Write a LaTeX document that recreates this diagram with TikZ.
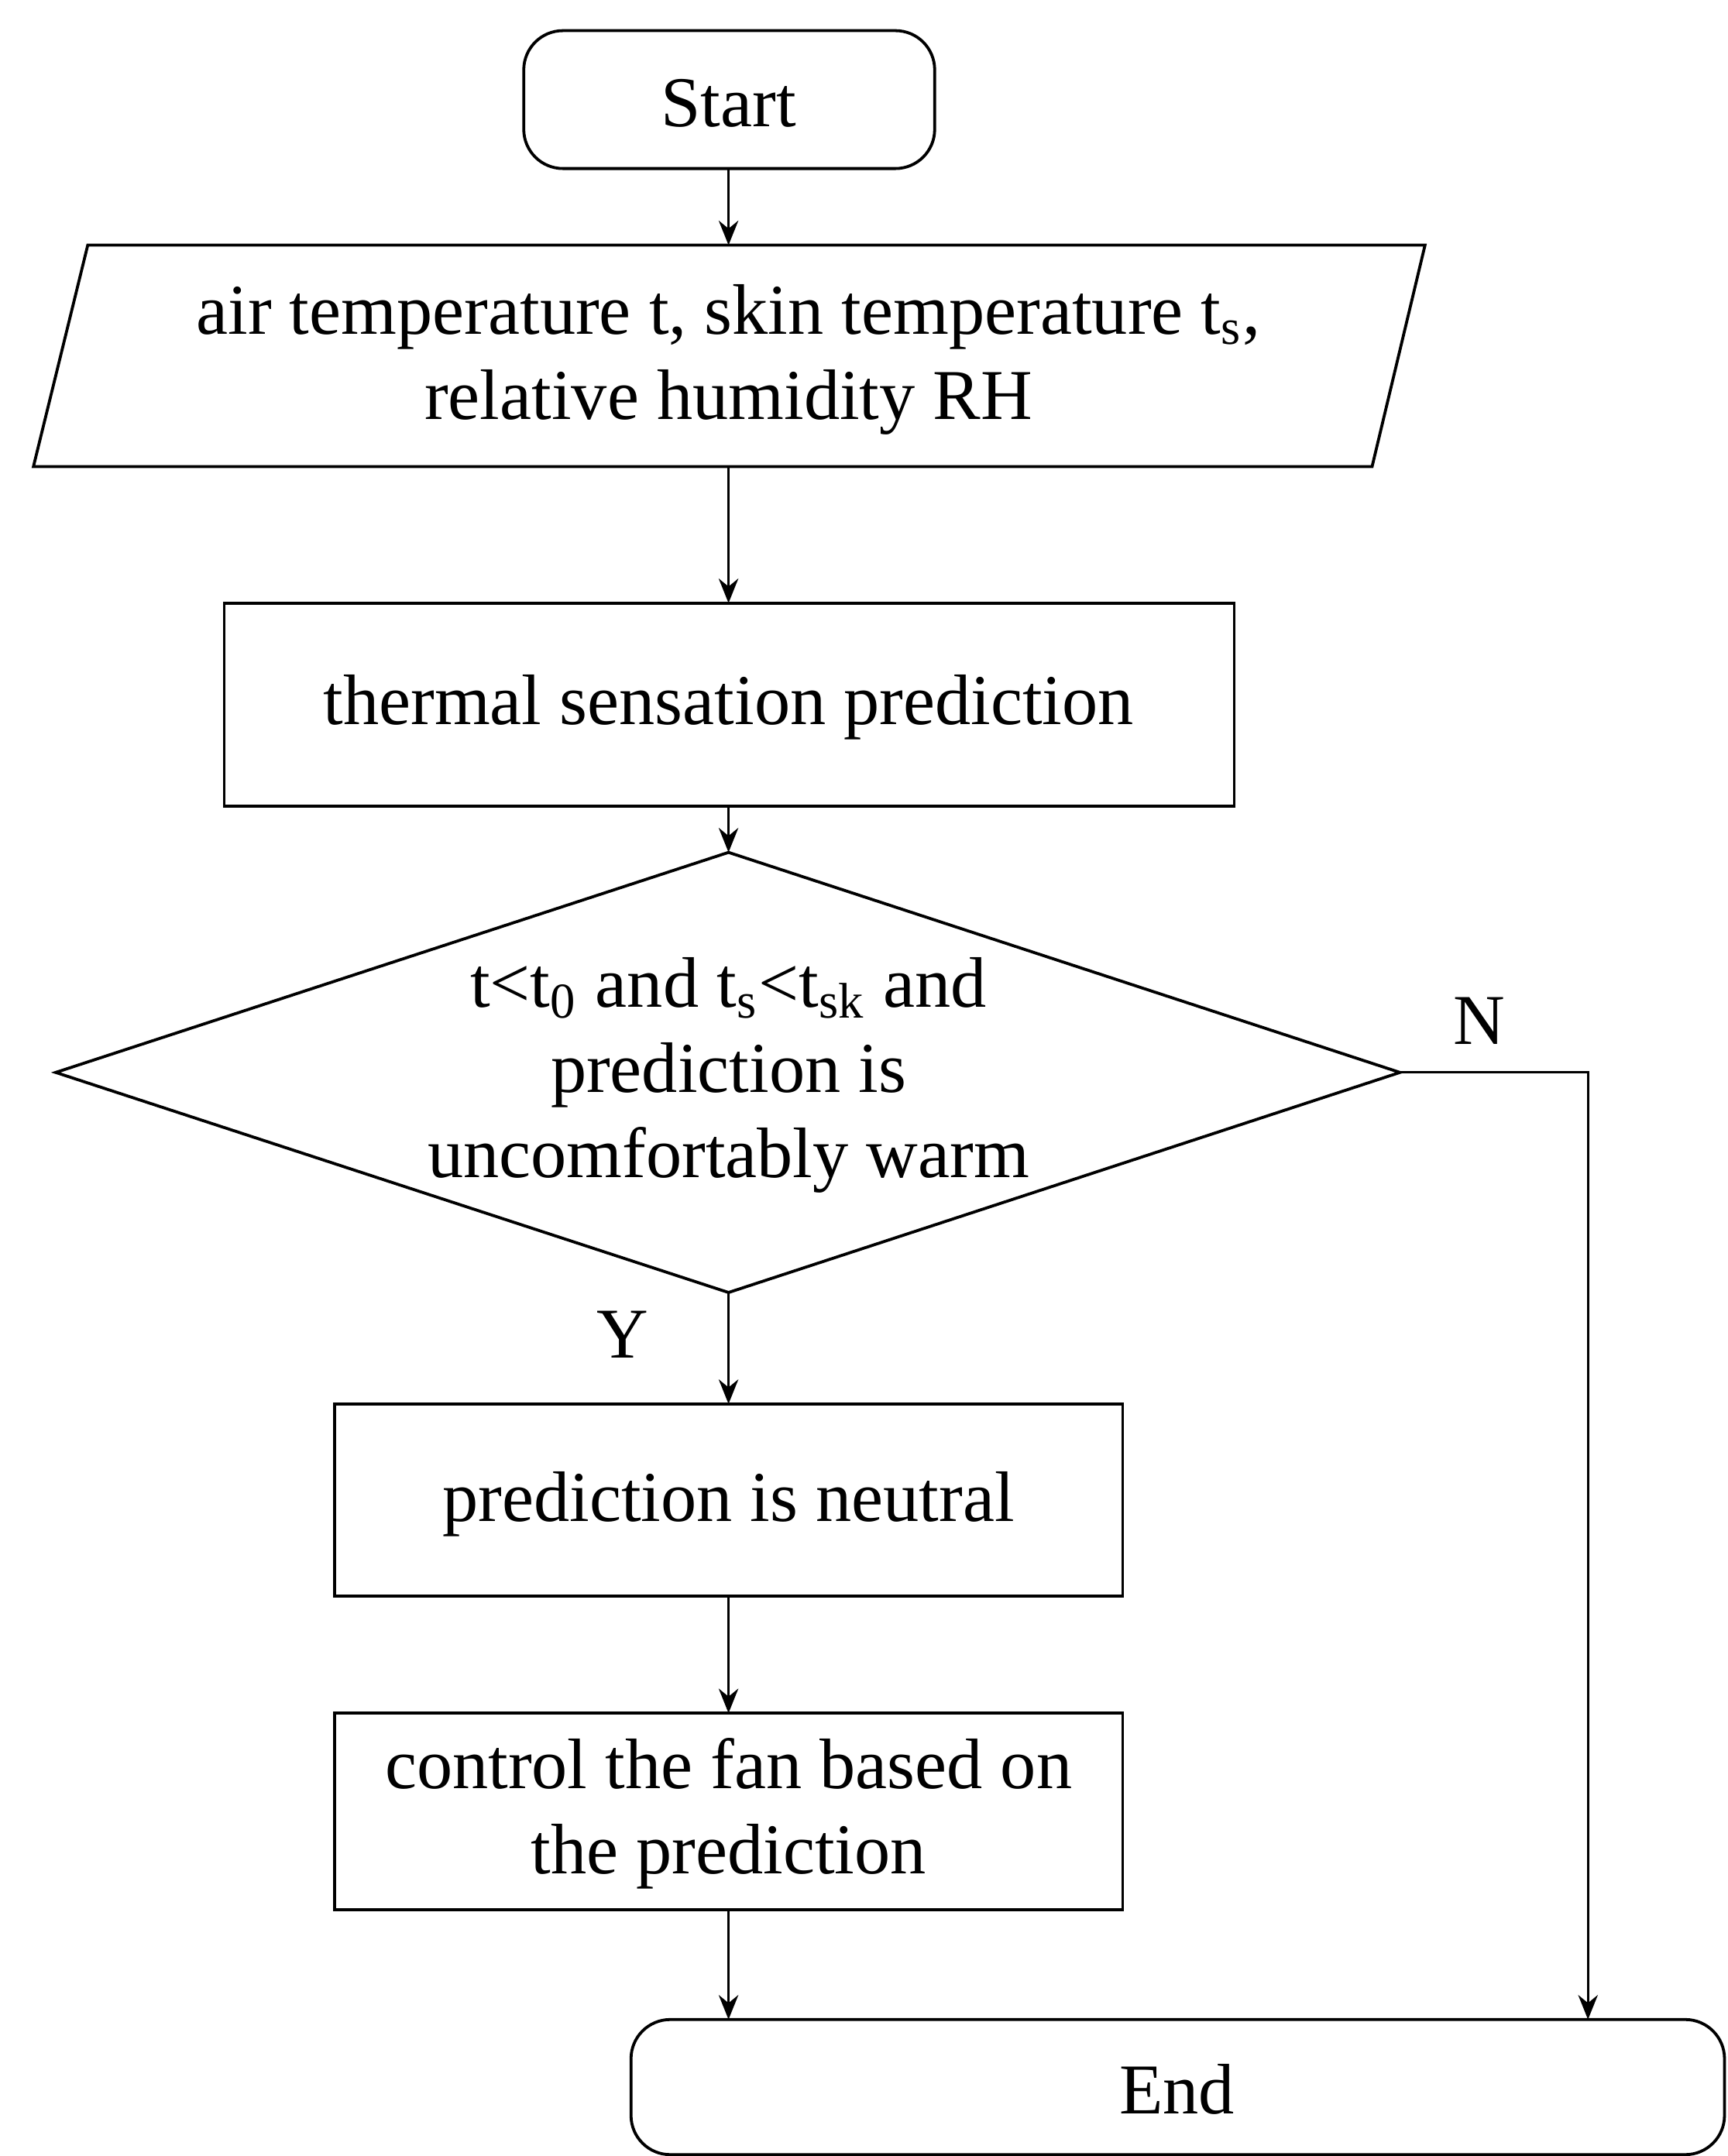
\documentclass[tikz,border=0pt]{standalone}
\usepackage{fontspec}
\setmainfont{Liberation Serif}
\usetikzlibrary{shapes.geometric,arrows.meta}
\begin{document}
\begin{tikzpicture}[x=0.01cm,y=-0.01cm,
  lbl/.style={inner sep=0pt,font=\fontsize{14.6}{17.4}\selectfont},
  shp/.style={line width=0.6pt},
  arr/.style={-{Stealth[length=5pt,width=4pt]},line width=0.5pt}]
\useasboundingbox (0,0) rectangle (1240,1548);
\draw[shp,rounded corners=8pt] (376,22) rectangle (671,121);
\node[lbl] (start) at (523,74) {Start};
\draw[shp] (63,176) -- (1023,176) -- (985,335) -- (24,335) -- cycle;
\coordinate (inT) at (523,176); \coordinate (inB) at (523,335);
\node[lbl,align=center] (in) at (523,258) {air temperature t, skin temperature t\textsubscript{s},\\relative humidity RH};
\draw[shp] (161,433) rectangle (886,579);
\coordinate (p1T) at (523,433); \coordinate (p1B) at (523,579);
\node[lbl] (p1) at (523,508) {thermal sensation prediction};
\draw[shp] (40,770) -- (523,612) -- (1005,770) -- (523,928) -- cycle;
\coordinate (dT) at (523,612); \coordinate (dB) at (523,928); \coordinate (dR) at (1005,770);
\node[lbl,align=center] (d) at (523,772) {t<t\textsubscript{0} and t\textsubscript{s}<t\textsubscript{sk} and\\prediction is\\uncomfortably warm};
\draw[shp] (240,1008) rectangle (806,1146);
\coordinate (b2T) at (523,1008); \coordinate (b2B) at (523,1146);
\node[lbl] (b2) at (523,1080) {prediction is neutral};
\draw[shp] (240,1230) rectangle (806,1371);
\coordinate (b3T) at (523,1230); \coordinate (b3B) at (523,1371);
\node[lbl,align=center] (b3) at (523,1302) {control the fan based on\\the prediction};
\draw[shp,rounded corners=8pt] (453,1450) rectangle (1238,1547);
\coordinate (eL) at (523,1450); \coordinate (eR) at (1140,1450);
\node[lbl] (end) at (845,1500) {End};
\node[lbl] (Y) at (447,958) {Y};
\node[lbl] (N) at (1062,733) {N};
\coordinate (sB) at (523,121);
\draw[arr] (sB) -- (inT);
\draw[arr] (inB) -- (p1T);
\draw[arr] (p1B) -- (dT);
\draw[arr] (dB) -- (b2T);
\draw[arr] (b2B) -- (b3T);
\draw[arr] (b3B) -- (eL);
\draw[arr] (dR) -- (1140,770) -- (eR);
\end{tikzpicture}
\end{document}
